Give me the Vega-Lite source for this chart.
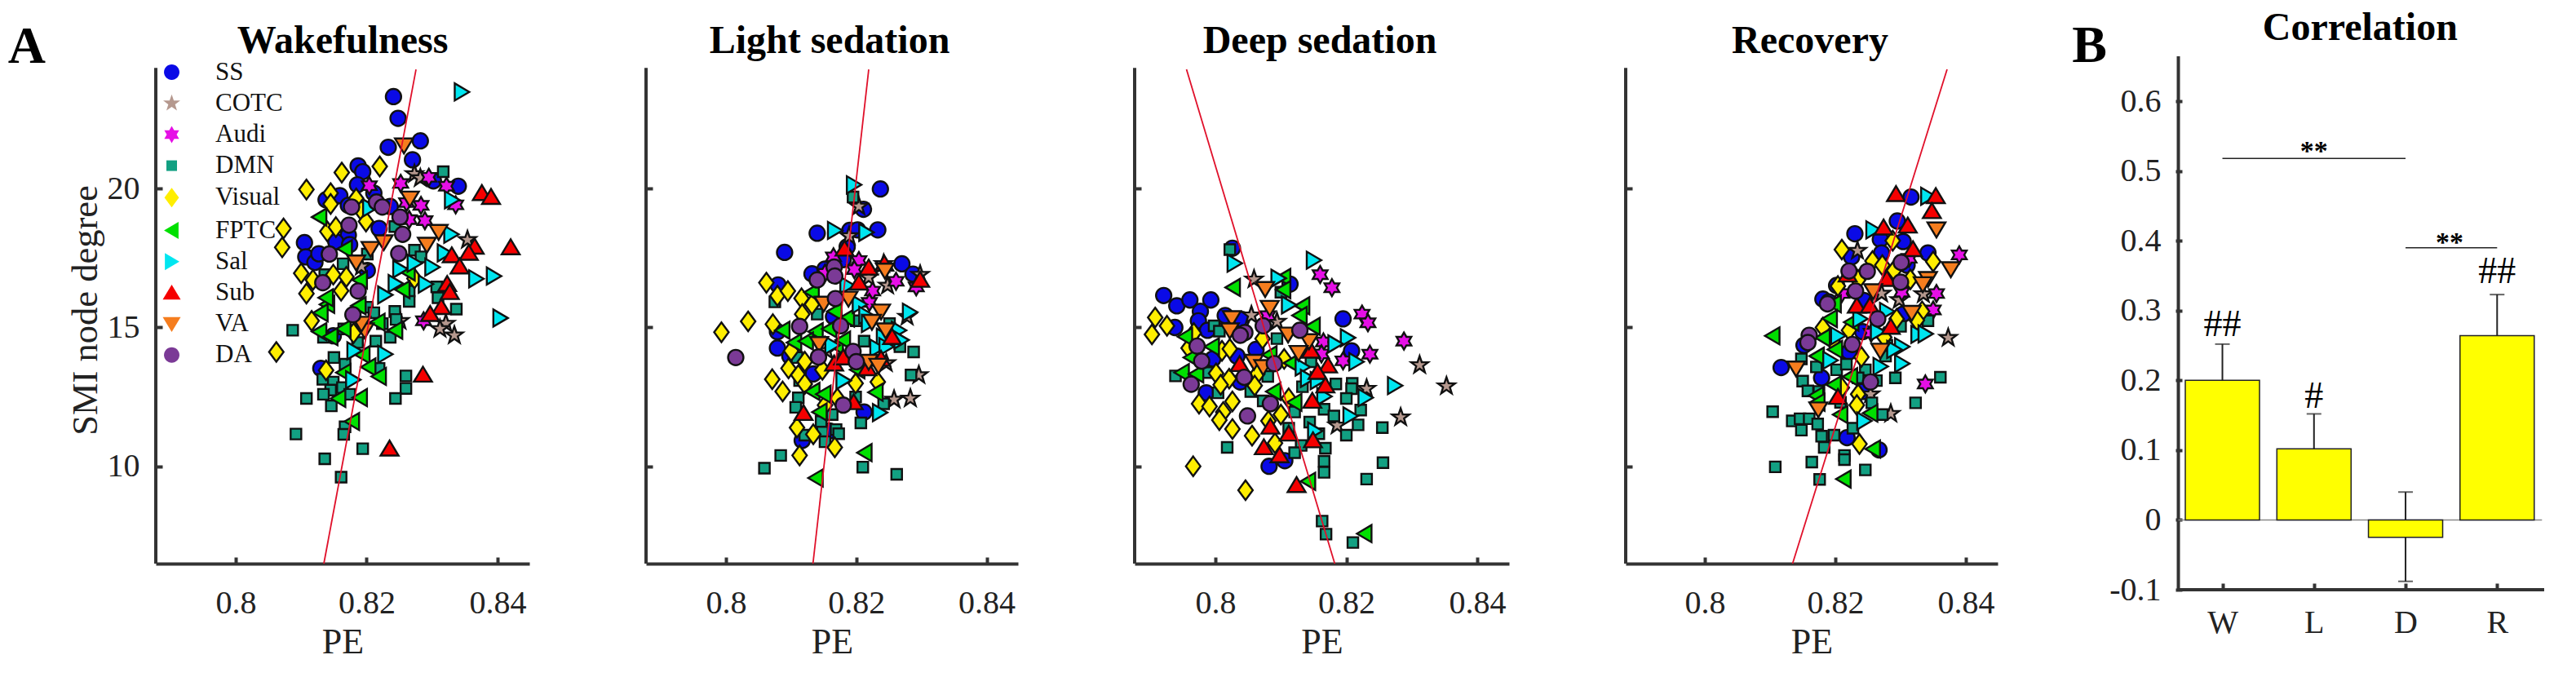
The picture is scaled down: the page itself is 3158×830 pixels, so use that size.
{
"$schema":"https://vega.github.io/schema/vega-lite/v6.json",
"description":"PE against SMI node degree in four states, and their correlation",
"autosize":{"type":"none"},
"padding":{"left":191,"top":69,"right":2967,"bottom":761},
"background":"white",
"spacing":143,
"bounds":"flush",
"resolve":{"scale":{"color":"independent","shape":"independent"},"legend":{"color":"independent","shape":"independent"}},
"config":{
"view":{"stroke":null},
"font":"Liberation Serif",
"axis":{"grid":false,"labelFont":"Liberation Serif","labelFontSize":40,"labelColor":"#222","titleFont":"Liberation Serif","titleFontWeight":"normal","titleColor":"#222","tickColor":"#333","tickWidth":4,"tickSize":-8,"domainColor":"#333","domainWidth":4,"labelOverlap":false,"labelFlush":false,"labelBound":false},
"legend":{"labelFont":"Liberation Serif","labelFontSize":31,"labelColor":"#111","symbolStrokeColor":"#111","symbolStrokeWidth":2.4,"symbolSize":440,"symbolOpacity":1}
},
"datasets":{
"fit":[{"p":"W","x":0.81346,"y":6.51},{"p":"W","x":0.82754,"y":24.28},{"p":"L","x":0.81335,"y":6.51},{"p":"L","x":0.82191,"y":24.28},{"p":"D","x":0.79558,"y":24.28},{"p":"D","x":0.81823,"y":6.51},{"p":"R","x":0.81345,"y":6.51},{"p":"R","x":0.83713,"y":24.28}],
"spine":[{"p":"W","x":0.78779,"y":6.51,"top":24.33},{"p":"L","x":0.78773,"y":6.51,"top":24.33},{"p":"D","x":0.78766,"y":6.51,"top":24.33},{"p":"R","x":0.78788,"y":6.51,"top":24.33}],
"labels":[{"p":"W","t":"A","s":"letter","x":0.7681,"y":24.525},{"p":"W","t":"Wakefulness","s":"head","x":0.81633,"y":24.868},{"p":"L","t":"Light sedation","s":"head","x":0.8159,"y":24.868},{"p":"D","t":"Deep sedation","s":"head","x":0.81595,"y":24.868},{"p":"R","t":"Recovery","s":"head","x":0.81613,"y":24.868}],
"frame":[{"k":"a"}],
"bars":[{"c":1,"v":0.2,"lo":0.2,"hi":0.252},{"c":2,"v":0.102,"lo":0.102,"hi":0.152},{"c":3,"v":-0.025,"lo":-0.088,"hi":0.04},{"c":4,"v":0.264,"lo":0.264,"hi":0.323}],
"caps":[{"c":1,"y":0.252},{"c":2,"y":0.152},{"c":3,"y":0.04},{"c":3,"y":-0.088},{"c":4,"y":0.323}],
"brackets":[{"a":1,"b":3,"y":0.518},{"a":3,"b":4,"y":0.39}],
"notes":[{"t":"B","s":"letter","x":-0.451,"y":0.6564},{"t":"Correlation","s":"head","x":2.5035,"y":0.6877},{"t":"##","s":"hash","x":1,"y":0.263},{"t":"#","s":"hash","x":2,"y":0.161},{"t":"##","s":"hash","x":4,"y":0.339},{"t":"**","s":"star","x":2,"y":0.516},{"t":"**","s":"star","x":3.48,"y":0.385}],
"pts":[
{"p":"W","g":"SS","x":0.8241,"y":23.3},{"p":"W","g":"SS","x":0.8248,"y":22.52},{"p":"W","g":"SS","x":0.8233,"y":21.48},{"p":"W","g":"SS","x":0.8282,"y":21.71},{"p":"W","g":"SS","x":0.827,"y":21.03},{"p":"W","g":"SS","x":0.8187,"y":20.81},{"p":"W","g":"SS","x":0.8194,"y":20.6},{"p":"W","g":"SS","x":0.8186,"y":20.13},{"p":"W","g":"SS","x":0.8302,"y":20.27},{"p":"W","g":"SS","x":0.834,"y":20.08},{"p":"W","g":"SS","x":0.8138,"y":19.59},{"p":"W","g":"SS","x":0.8159,"y":19.74},{"p":"W","g":"SS","x":0.8172,"y":19.39},{"p":"W","g":"SS","x":0.8211,"y":19.83},{"p":"W","g":"SS","x":0.8236,"y":19.35},{"p":"W","g":"SS","x":0.8219,"y":18.56},{"p":"W","g":"SS","x":0.8172,"y":18.32},{"p":"W","g":"SS","x":0.8105,"y":18.05},{"p":"W","g":"SS","x":0.8107,"y":17.54},{"p":"W","g":"SS","x":0.8121,"y":17.34},{"p":"W","g":"SS","x":0.8127,"y":17.65},{"p":"W","g":"SS","x":0.8153,"y":18.08},{"p":"W","g":"SS","x":0.8174,"y":17.98},{"p":"W","g":"SS","x":0.8201,"y":17.05},{"p":"W","g":"SS","x":0.8149,"y":14.7},{"p":"W","g":"SS","x":0.813,"y":13.53},
{"p":"W","g":"COTC","x":0.8273,"y":20.52},{"p":"W","g":"COTC","x":0.8354,"y":18.15},{"p":"W","g":"COTC","x":0.8192,"y":17.19},{"p":"W","g":"COTC","x":0.8282,"y":20.37},{"p":"W","g":"COTC","x":0.8321,"y":15.14},{"p":"W","g":"COTC","x":0.8312,"y":14.95},{"p":"W","g":"COTC","x":0.8334,"y":14.72},{"p":"W","g":"COTC","x":0.8251,"y":15.24},
{"p":"W","g":"Audi","x":0.8204,"y":20.1},{"p":"W","g":"Audi","x":0.8252,"y":20.18},{"p":"W","g":"Audi","x":0.8295,"y":20.4},{"p":"W","g":"Audi","x":0.8322,"y":20.08},{"p":"W","g":"Audi","x":0.8283,"y":19.39},{"p":"W","g":"Audi","x":0.8336,"y":19.41},{"p":"W","g":"Audi","x":0.8289,"y":18.84},{"p":"W","g":"Audi","x":0.8265,"y":18.88},{"p":"W","g":"Audi","x":0.8287,"y":15.24},{"p":"W","g":"Audi","x":0.8261,"y":19.49},
{"p":"W","g":"DMN","x":0.8317,"y":20.6},{"p":"W","g":"DMN","x":0.8243,"y":18.63},{"p":"W","g":"DMN","x":0.8273,"y":17.78},{"p":"W","g":"DMN","x":0.8283,"y":17.54},{"p":"W","g":"DMN","x":0.8164,"y":17.29},{"p":"W","g":"DMN","x":0.8201,"y":17.64},{"p":"W","g":"DMN","x":0.8307,"y":16.46},{"p":"W","g":"DMN","x":0.8309,"y":16.07},{"p":"W","g":"DMN","x":0.8265,"y":16.31},{"p":"W","g":"DMN","x":0.8265,"y":15.94},{"p":"W","g":"DMN","x":0.8337,"y":15.66},{"p":"W","g":"DMN","x":0.8243,"y":15.58},{"p":"W","g":"DMN","x":0.8245,"y":15.29},{"p":"W","g":"DMN","x":0.8087,"y":14.9},{"p":"W","g":"DMN","x":0.8201,"y":15.73},{"p":"W","g":"DMN","x":0.8211,"y":15.53},{"p":"W","g":"DMN","x":0.8136,"y":16.9},{"p":"W","g":"DMN","x":0.8165,"y":14.95},{"p":"W","g":"DMN","x":0.8224,"y":15.14},{"p":"W","g":"DMN","x":0.815,"y":13.92},{"p":"W","g":"DMN","x":0.8167,"y":13.68},{"p":"W","g":"DMN","x":0.8214,"y":14.51},{"p":"W","g":"DMN","x":0.8186,"y":14.46},{"p":"W","g":"DMN","x":0.8236,"y":14.65},{"p":"W","g":"DMN","x":0.8219,"y":13.53},{"p":"W","g":"DMN","x":0.8134,"y":14.65},{"p":"W","g":"DMN","x":0.826,"y":13.26},{"p":"W","g":"DMN","x":0.826,"y":12.81},{"p":"W","g":"DMN","x":0.8244,"y":12.45},{"p":"W","g":"DMN","x":0.8133,"y":13.14},{"p":"W","g":"DMN","x":0.8149,"y":13.04},{"p":"W","g":"DMN","x":0.8145,"y":12.75},{"p":"W","g":"DMN","x":0.8134,"y":12.6},{"p":"W","g":"DMN","x":0.8163,"y":12.84},{"p":"W","g":"DMN","x":0.8174,"y":12.6},{"p":"W","g":"DMN","x":0.8146,"y":12.18},{"p":"W","g":"DMN","x":0.8108,"y":12.45},{"p":"W","g":"DMN","x":0.8167,"y":11.43},{"p":"W","g":"DMN","x":0.8165,"y":11.16},{"p":"W","g":"DMN","x":0.8092,"y":11.17},{"p":"W","g":"DMN","x":0.8194,"y":10.64},{"p":"W","g":"DMN","x":0.8136,"y":10.28},{"p":"W","g":"DMN","x":0.8161,"y":9.62},
{"p":"W","g":"Visual","x":0.822,"y":20.79},{"p":"W","g":"Visual","x":0.8162,"y":20.57},{"p":"W","g":"Visual","x":0.8108,"y":19.96},{"p":"W","g":"Visual","x":0.8145,"y":19.83},{"p":"W","g":"Visual","x":0.8145,"y":19.44},{"p":"W","g":"Visual","x":0.8184,"y":19.64},{"p":"W","g":"Visual","x":0.8192,"y":19.2},{"p":"W","g":"Visual","x":0.8199,"y":18.81},{"p":"W","g":"Visual","x":0.8073,"y":18.56},{"p":"W","g":"Visual","x":0.8071,"y":17.88},{"p":"W","g":"Visual","x":0.814,"y":18.45},{"p":"W","g":"Visual","x":0.8153,"y":18.61},{"p":"W","g":"Visual","x":0.81,"y":16.95},{"p":"W","g":"Visual","x":0.8118,"y":16.71},{"p":"W","g":"Visual","x":0.8149,"y":16.9},{"p":"W","g":"Visual","x":0.8169,"y":16.82},{"p":"W","g":"Visual","x":0.8108,"y":16.22},{"p":"W","g":"Visual","x":0.8161,"y":16.32},{"p":"W","g":"Visual","x":0.8116,"y":15.24},{"p":"W","g":"Visual","x":0.8273,"y":16.76},{"p":"W","g":"Visual","x":0.818,"y":14.8},{"p":"W","g":"Visual","x":0.8062,"y":14.12},{"p":"W","g":"Visual","x":0.8138,"y":13.46},
{"p":"W","g":"FPTC","x":0.8128,"y":18.97},{"p":"W","g":"FPTC","x":0.8167,"y":17.83},{"p":"W","g":"FPTC","x":0.819,"y":16.71},{"p":"W","g":"FPTC","x":0.814,"y":15.83},{"p":"W","g":"FPTC","x":0.813,"y":15.53},{"p":"W","g":"FPTC","x":0.8188,"y":15.78},{"p":"W","g":"FPTC","x":0.8128,"y":14.85},{"p":"W","g":"FPTC","x":0.8165,"y":14.95},{"p":"W","g":"FPTC","x":0.8217,"y":15.19},{"p":"W","g":"FPTC","x":0.8244,"y":14.9},{"p":"W","g":"FPTC","x":0.8138,"y":16.07},{"p":"W","g":"FPTC","x":0.8255,"y":16.36},{"p":"W","g":"FPTC","x":0.8263,"y":17},{"p":"W","g":"FPTC","x":0.8145,"y":14.67},{"p":"W","g":"FPTC","x":0.8194,"y":14.02},{"p":"W","g":"FPTC","x":0.8203,"y":13.58},{"p":"W","g":"FPTC","x":0.8219,"y":13.24},{"p":"W","g":"FPTC","x":0.8165,"y":13.38},{"p":"W","g":"FPTC","x":0.8157,"y":12.45},{"p":"W","g":"FPTC","x":0.819,"y":12.48},{"p":"W","g":"FPTC","x":0.8178,"y":11.62},
{"p":"W","g":"Sal","x":0.8345,"y":23.47},{"p":"W","g":"Sal","x":0.833,"y":19.59},{"p":"W","g":"Sal","x":0.8205,"y":19.3},{"p":"W","g":"Sal","x":0.8329,"y":18.35},{"p":"W","g":"Sal","x":0.8319,"y":17.68},{"p":"W","g":"Sal","x":0.8251,"y":17.1},{"p":"W","g":"Sal","x":0.8273,"y":17.31},{"p":"W","g":"Sal","x":0.83,"y":17.17},{"p":"W","g":"Sal","x":0.8367,"y":16.75},{"p":"W","g":"Sal","x":0.8394,"y":16.85},{"p":"W","g":"Sal","x":0.8244,"y":16.58},{"p":"W","g":"Sal","x":0.829,"y":16.56},{"p":"W","g":"Sal","x":0.8228,"y":16.17},{"p":"W","g":"Sal","x":0.8404,"y":15.34},{"p":"W","g":"Sal","x":0.8181,"y":14.16},{"p":"W","g":"Sal","x":0.8228,"y":14.04},{"p":"W","g":"Sal","x":0.8179,"y":13.12},
{"p":"W","g":"Sub","x":0.8376,"y":19.83},{"p":"W","g":"Sub","x":0.839,"y":19.69},{"p":"W","g":"Sub","x":0.8365,"y":17.9},{"p":"W","g":"Sub","x":0.842,"y":17.88},{"p":"W","g":"Sub","x":0.833,"y":17.59},{"p":"W","g":"Sub","x":0.8356,"y":17.68},{"p":"W","g":"Sub","x":0.8342,"y":17.19},{"p":"W","g":"Sub","x":0.8323,"y":16.56},{"p":"W","g":"Sub","x":0.8327,"y":16.27},{"p":"W","g":"Sub","x":0.8314,"y":15.73},{"p":"W","g":"Sub","x":0.8297,"y":15.48},{"p":"W","g":"Sub","x":0.8286,"y":13.3},{"p":"W","g":"Sub","x":0.8235,"y":10.64},
{"p":"W","g":"VA","x":0.8257,"y":21.55},{"p":"W","g":"VA","x":0.8266,"y":19.64},{"p":"W","g":"VA","x":0.831,"y":18.44},{"p":"W","g":"VA","x":0.8292,"y":17.98},{"p":"W","g":"VA","x":0.8206,"y":17.83},{"p":"W","g":"VA","x":0.8226,"y":18.07},{"p":"W","g":"VA","x":0.8184,"y":17.34},{"p":"W","g":"VA","x":0.8197,"y":14.9},{"p":"W","g":"VA","x":0.8192,"y":15.14},
{"p":"W","g":"DA","x":0.8177,"y":19.33},{"p":"W","g":"DA","x":0.8215,"y":19.51},{"p":"W","g":"DA","x":0.8224,"y":19.33},{"p":"W","g":"DA","x":0.8251,"y":18.97},{"p":"W","g":"DA","x":0.8173,"y":18.68},{"p":"W","g":"DA","x":0.8255,"y":18.35},{"p":"W","g":"DA","x":0.8143,"y":17.64},{"p":"W","g":"DA","x":0.8249,"y":17.66},{"p":"W","g":"DA","x":0.8133,"y":16.61},{"p":"W","g":"DA","x":0.8187,"y":16.31},{"p":"W","g":"DA","x":0.8179,"y":15.46},
{"p":"L","g":"SS","x":0.8237,"y":19.98},{"p":"L","g":"SS","x":0.8211,"y":19.25},{"p":"L","g":"SS","x":0.814,"y":18.39},{"p":"L","g":"SS","x":0.819,"y":18.49},{"p":"L","g":"SS","x":0.8202,"y":18.51},{"p":"L","g":"SS","x":0.8233,"y":18.51},{"p":"L","g":"SS","x":0.809,"y":17.7},{"p":"L","g":"SS","x":0.8186,"y":17.9},{"p":"L","g":"SS","x":0.818,"y":17.44},{"p":"L","g":"SS","x":0.827,"y":17.29},{"p":"L","g":"SS","x":0.8132,"y":16.93},{"p":"L","g":"SS","x":0.8152,"y":17.1},{"p":"L","g":"SS","x":0.8287,"y":16.92},{"p":"L","g":"SS","x":0.808,"y":16.53},{"p":"L","g":"SS","x":0.8079,"y":14.26},{"p":"L","g":"SS","x":0.8134,"y":13.33},{"p":"L","g":"SS","x":0.8098,"y":13.97},{"p":"L","g":"SS","x":0.8212,"y":11.96},{"p":"L","g":"SS","x":0.8117,"y":10.94},{"p":"L","g":"SS","x":0.8079,"y":14.85},{"p":"L","g":"SS","x":0.8159,"y":11.28},{"p":"L","g":"SS","x":0.8165,"y":15.39},
{"p":"L","g":"COTC","x":0.8204,"y":19.35},{"p":"L","g":"COTC","x":0.8189,"y":18.29},{"p":"L","g":"COTC","x":0.8219,"y":16.8},{"p":"L","g":"COTC","x":0.8248,"y":16.51},{"p":"L","g":"COTC","x":0.8278,"y":15.39},{"p":"L","g":"COTC","x":0.8155,"y":14.16},{"p":"L","g":"COTC","x":0.8296,"y":13.29},{"p":"L","g":"COTC","x":0.8258,"y":12.41},{"p":"L","g":"COTC","x":0.8283,"y":12.45},{"p":"L","g":"COTC","x":0.8246,"y":13.72},{"p":"L","g":"COTC","x":0.8242,"y":17.29},{"p":"L","g":"COTC","x":0.8298,"y":16.9},
{"p":"L","g":"Audi","x":0.8165,"y":17.54},{"p":"L","g":"Audi","x":0.8204,"y":17.41},{"p":"L","g":"Audi","x":0.8197,"y":17.08},{"p":"L","g":"Audi","x":0.8261,"y":16.66},{"p":"L","g":"Audi","x":0.8225,"y":16.31},{"p":"L","g":"Audi","x":0.822,"y":15.9},{"p":"L","g":"Audi","x":0.8292,"y":16.46},{"p":"L","g":"Audi","x":0.8152,"y":16.95},
{"p":"L","g":"DMN","x":0.8195,"y":19.69},{"p":"L","g":"DMN","x":0.8075,"y":15.92},{"p":"L","g":"DMN","x":0.814,"y":15.48},{"p":"L","g":"DMN","x":0.82,"y":15.24},{"p":"L","g":"DMN","x":0.8251,"y":15.14},{"p":"L","g":"DMN","x":0.8212,"y":14.51},{"p":"L","g":"DMN","x":0.8267,"y":14.31},{"p":"L","g":"DMN","x":0.8288,"y":14.12},{"p":"L","g":"DMN","x":0.8284,"y":13.29},{"p":"L","g":"DMN","x":0.8111,"y":12.47},{"p":"L","g":"DMN","x":0.8109,"y":13.92},{"p":"L","g":"DMN","x":0.8107,"y":12.13},{"p":"L","g":"DMN","x":0.8199,"y":12.5},{"p":"L","g":"DMN","x":0.8242,"y":12.26},{"p":"L","g":"DMN","x":0.8163,"y":11.87},{"p":"L","g":"DMN","x":0.8207,"y":11.57},{"p":"L","g":"DMN","x":0.8148,"y":11.28},{"p":"L","g":"DMN","x":0.8169,"y":11.33},{"p":"L","g":"DMN","x":0.8173,"y":11.18},{"p":"L","g":"DMN","x":0.8152,"y":10.89},{"p":"L","g":"DMN","x":0.8084,"y":10.4},{"p":"L","g":"DMN","x":0.8059,"y":9.94},{"p":"L","g":"DMN","x":0.821,"y":9.98},{"p":"L","g":"DMN","x":0.8262,"y":9.72},{"p":"L","g":"DMN","x":0.8113,"y":13.09},{"p":"L","g":"DMN","x":0.8146,"y":11.62},{"p":"L","g":"DMN","x":0.8121,"y":11.13},{"p":"L","g":"DMN","x":0.818,"y":13.87},
{"p":"L","g":"Visual","x":0.8062,"y":16.61},{"p":"L","g":"Visual","x":0.8079,"y":16.14},{"p":"L","g":"Visual","x":0.8095,"y":16.31},{"p":"L","g":"Visual","x":0.8116,"y":16.05},{"p":"L","g":"Visual","x":0.8132,"y":15.83},{"p":"L","g":"Visual","x":0.8117,"y":15.48},{"p":"L","g":"Visual","x":0.8072,"y":15.12},{"p":"L","g":"Visual","x":0.8034,"y":15.22},{"p":"L","g":"Visual","x":0.7993,"y":14.83},{"p":"L","g":"Visual","x":0.8121,"y":13.77},{"p":"L","g":"Visual","x":0.8096,"y":13.53},{"p":"L","g":"Visual","x":0.8111,"y":13.29},{"p":"L","g":"Visual","x":0.8121,"y":12.97},{"p":"L","g":"Visual","x":0.8071,"y":13.14},{"p":"L","g":"Visual","x":0.8087,"y":12.7},{"p":"L","g":"Visual","x":0.8199,"y":12.99},{"p":"L","g":"Visual","x":0.8233,"y":13.04},{"p":"L","g":"Visual","x":0.8109,"y":11.4},{"p":"L","g":"Visual","x":0.8134,"y":11.16},{"p":"L","g":"Visual","x":0.8167,"y":10.69},{"p":"L","g":"Visual","x":0.8113,"y":10.4},{"p":"L","g":"Visual","x":0.8148,"y":13.48},{"p":"L","g":"Visual","x":0.8152,"y":12.21},{"p":"L","g":"Visual","x":0.81,"y":14.16},{"p":"L","g":"Visual","x":0.8171,"y":12.45},
{"p":"L","g":"FPTC","x":0.8087,"y":14.9},{"p":"L","g":"FPTC","x":0.8132,"y":16.27},{"p":"L","g":"FPTC","x":0.8138,"y":14.85},{"p":"L","g":"FPTC","x":0.8159,"y":14.95},{"p":"L","g":"FPTC","x":0.8105,"y":14.46},{"p":"L","g":"FPTC","x":0.8123,"y":14.51},{"p":"L","g":"FPTC","x":0.8169,"y":14.36},{"p":"L","g":"FPTC","x":0.8186,"y":15.34},{"p":"L","g":"FPTC","x":0.8133,"y":12.7},{"p":"L","g":"FPTC","x":0.815,"y":12.6},{"p":"L","g":"FPTC","x":0.8144,"y":11.96},{"p":"L","g":"FPTC","x":0.823,"y":12.67},{"p":"L","g":"FPTC","x":0.8213,"y":10.5},{"p":"L","g":"FPTC","x":0.8138,"y":9.59},{"p":"L","g":"FPTC","x":0.818,"y":14.55},{"p":"L","g":"FPTC","x":0.8202,"y":13.48},{"p":"L","g":"FPTC","x":0.8167,"y":15.58},
{"p":"L","g":"Sal","x":0.8196,"y":20.13},{"p":"L","g":"Sal","x":0.8167,"y":18.49},{"p":"L","g":"Sal","x":0.8215,"y":18.42},{"p":"L","g":"Sal","x":0.8186,"y":16.51},{"p":"L","g":"Sal","x":0.8205,"y":15.83},{"p":"L","g":"Sal","x":0.8282,"y":15.55},{"p":"L","g":"Sal","x":0.8215,"y":15.44},{"p":"L","g":"Sal","x":0.8219,"y":15.14},{"p":"L","g":"Sal","x":0.8242,"y":14.65},{"p":"L","g":"Sal","x":0.8265,"y":14.9},{"p":"L","g":"Sal","x":0.8232,"y":14.26},{"p":"L","g":"Sal","x":0.8246,"y":14.31},{"p":"L","g":"Sal","x":0.8269,"y":14.55},{"p":"L","g":"Sal","x":0.818,"y":13.09},{"p":"L","g":"Sal","x":0.8236,"y":11.94},{"p":"L","g":"Sal","x":0.8163,"y":14.36},
{"p":"L","g":"Sub","x":0.8182,"y":17.83},{"p":"L","g":"Sub","x":0.8219,"y":17.15},{"p":"L","g":"Sub","x":0.8243,"y":17.29},{"p":"L","g":"Sub","x":0.8204,"y":16.61},{"p":"L","g":"Sub","x":0.8298,"y":16.71},{"p":"L","g":"Sub","x":0.8255,"y":14.65},{"p":"L","g":"Sub","x":0.8166,"y":13.7},{"p":"L","g":"Sub","x":0.8119,"y":11.92},{"p":"L","g":"Sub","x":0.818,"y":13.92},{"p":"L","g":"Sub","x":0.8238,"y":13.87},{"p":"L","g":"Sub","x":0.8217,"y":13.53},{"p":"L","g":"Sub","x":0.8196,"y":12.31},
{"p":"L","g":"VA","x":0.8244,"y":17.05},{"p":"L","g":"VA","x":0.815,"y":15.86},{"p":"L","g":"VA","x":0.8188,"y":16.04},{"p":"L","g":"VA","x":0.8238,"y":15.58},{"p":"L","g":"VA","x":0.8224,"y":15.21},{"p":"L","g":"VA","x":0.8245,"y":14.9},{"p":"L","g":"VA","x":0.8143,"y":14.41},{"p":"L","g":"VA","x":0.8219,"y":13.77},{"p":"L","g":"VA","x":0.8234,"y":13.63},
{"p":"L","g":"DA","x":0.8166,"y":17.17},{"p":"L","g":"DA","x":0.814,"y":16.71},{"p":"L","g":"DA","x":0.8167,"y":16.85},{"p":"L","g":"DA","x":0.8168,"y":16.04},{"p":"L","g":"DA","x":0.8113,"y":15.04},{"p":"L","g":"DA","x":0.8176,"y":15.06},{"p":"L","g":"DA","x":0.8015,"y":13.92},{"p":"L","g":"DA","x":0.8142,"y":13.94},{"p":"L","g":"DA","x":0.8195,"y":14.14},{"p":"L","g":"DA","x":0.82,"y":13.77},{"p":"L","g":"DA","x":0.818,"y":12.21},
{"p":"D","g":"SS","x":0.8026,"y":17.85},{"p":"D","g":"SS","x":0.8114,"y":16.56},{"p":"D","g":"SS","x":0.7921,"y":16.15},{"p":"D","g":"SS","x":0.7941,"y":15.78},{"p":"D","g":"SS","x":0.7961,"y":15.99},{"p":"D","g":"SS","x":0.7993,"y":15.99},{"p":"D","g":"SS","x":0.7977,"y":15.58},{"p":"D","g":"SS","x":0.7974,"y":15.24},{"p":"D","g":"SS","x":0.8015,"y":15.43},{"p":"D","g":"SS","x":0.804,"y":15.29},{"p":"D","g":"SS","x":0.7938,"y":15},{"p":"D","g":"SS","x":0.8195,"y":15.31},{"p":"D","g":"SS","x":0.8208,"y":14.16},{"p":"D","g":"SS","x":0.8062,"y":14.21},{"p":"D","g":"SS","x":0.8033,"y":13.97},{"p":"D","g":"SS","x":0.7996,"y":13.87},{"p":"D","g":"SS","x":0.7986,"y":12.65},{"p":"D","g":"SS","x":0.8038,"y":13.04},{"p":"D","g":"SS","x":0.8082,"y":10.01},{"p":"D","g":"SS","x":0.8106,"y":10.21},{"p":"D","g":"SS","x":0.7988,"y":14.9},
{"p":"D","g":"COTC","x":0.8059,"y":16.73},{"p":"D","g":"COTC","x":0.8055,"y":15.44},{"p":"D","g":"COTC","x":0.8094,"y":15.21},{"p":"D","g":"COTC","x":0.8312,"y":13.65},{"p":"D","g":"COTC","x":0.8353,"y":12.89},{"p":"D","g":"COTC","x":0.8283,"y":11.77},{"p":"D","g":"COTC","x":0.8231,"y":12.8},{"p":"D","g":"COTC","x":0.8186,"y":11.48},
{"p":"D","g":"Audi","x":0.816,"y":16.9},{"p":"D","g":"Audi","x":0.8178,"y":16.43},{"p":"D","g":"Audi","x":0.8224,"y":15.48},{"p":"D","g":"Audi","x":0.8233,"y":15.17},{"p":"D","g":"Audi","x":0.8288,"y":14.51},{"p":"D","g":"Audi","x":0.8236,"y":14.04},{"p":"D","g":"Audi","x":0.8195,"y":13.8},{"p":"D","g":"Audi","x":0.8165,"y":14.48},{"p":"D","g":"Audi","x":0.8162,"y":14.05},{"p":"D","g":"Audi","x":0.808,"y":15.43},
{"p":"D","g":"DMN","x":0.8022,"y":17.8},{"p":"D","g":"DMN","x":0.81,"y":16.27},{"p":"D","g":"DMN","x":0.7998,"y":15.06},{"p":"D","g":"DMN","x":0.8006,"y":14.87},{"p":"D","g":"DMN","x":0.8094,"y":14.6},{"p":"D","g":"DMN","x":0.7939,"y":13.26},{"p":"D","g":"DMN","x":0.7989,"y":13.38},{"p":"D","g":"DMN","x":0.8004,"y":12.65},{"p":"D","g":"DMN","x":0.808,"y":13.24},{"p":"D","g":"DMN","x":0.8133,"y":12.87},{"p":"D","g":"DMN","x":0.8146,"y":13.77},{"p":"D","g":"DMN","x":0.8184,"y":12.97},{"p":"D","g":"DMN","x":0.8209,"y":12.99},{"p":"D","g":"DMN","x":0.8208,"y":12.8},{"p":"D","g":"DMN","x":0.82,"y":12.45},{"p":"D","g":"DMN","x":0.8054,"y":12.7},{"p":"D","g":"DMN","x":0.8073,"y":12.36},{"p":"D","g":"DMN","x":0.8121,"y":11.96},{"p":"D","g":"DMN","x":0.8166,"y":12.06},{"p":"D","g":"DMN","x":0.8181,"y":11.82},{"p":"D","g":"DMN","x":0.8222,"y":12.03},{"p":"D","g":"DMN","x":0.8218,"y":11.5},{"p":"D","g":"DMN","x":0.8255,"y":11.4},{"p":"D","g":"DMN","x":0.82,"y":11.13},{"p":"D","g":"DMN","x":0.8144,"y":11.6},{"p":"D","g":"DMN","x":0.8158,"y":11.18},{"p":"D","g":"DMN","x":0.8112,"y":11.38},{"p":"D","g":"DMN","x":0.8131,"y":10.76},{"p":"D","g":"DMN","x":0.8121,"y":10.5},{"p":"D","g":"DMN","x":0.8168,"y":10.66},{"p":"D","g":"DMN","x":0.8166,"y":10.19},{"p":"D","g":"DMN","x":0.8166,"y":9.79},{"p":"D","g":"DMN","x":0.8018,"y":10.69},{"p":"D","g":"DMN","x":0.8256,"y":10.14},{"p":"D","g":"DMN","x":0.8231,"y":9.55},{"p":"D","g":"DMN","x":0.8163,"y":8.04},{"p":"D","g":"DMN","x":0.8169,"y":7.57},{"p":"D","g":"DMN","x":0.821,"y":7.27},
{"p":"D","g":"Visual","x":0.7908,"y":15.36},{"p":"D","g":"Visual","x":0.7926,"y":15.06},{"p":"D","g":"Visual","x":0.7903,"y":14.75},{"p":"D","g":"Visual","x":0.7967,"y":14.8},{"p":"D","g":"Visual","x":0.801,"y":14.16},{"p":"D","g":"Visual","x":0.8022,"y":14.23},{"p":"D","g":"Visual","x":0.8001,"y":13.35},{"p":"D","g":"Visual","x":0.8021,"y":13.16},{"p":"D","g":"Visual","x":0.8008,"y":12.94},{"p":"D","g":"Visual","x":0.8026,"y":12.34},{"p":"D","g":"Visual","x":0.7975,"y":12.26},{"p":"D","g":"Visual","x":0.7991,"y":12.16},{"p":"D","g":"Visual","x":0.8012,"y":11.96},{"p":"D","g":"Visual","x":0.8006,"y":11.67},{"p":"D","g":"Visual","x":0.8026,"y":11.35},{"p":"D","g":"Visual","x":0.8056,"y":11.11},{"p":"D","g":"Visual","x":0.81,"y":11.87},{"p":"D","g":"Visual","x":0.8081,"y":11.64},{"p":"D","g":"Visual","x":0.8091,"y":10.84},{"p":"D","g":"Visual","x":0.7966,"y":10.01},{"p":"D","g":"Visual","x":0.8046,"y":9.15},{"p":"D","g":"Visual","x":0.8072,"y":14.6},{"p":"D","g":"Visual","x":0.8105,"y":13.87},{"p":"D","g":"Visual","x":0.8064,"y":13.33},{"p":"D","g":"Visual","x":0.806,"y":12.91},{"p":"D","g":"Visual","x":0.8112,"y":12.45},{"p":"D","g":"Visual","x":0.7959,"y":14.26},
{"p":"D","g":"FPTC","x":0.8027,"y":16.44},{"p":"D","g":"FPTC","x":0.8104,"y":16.8},{"p":"D","g":"FPTC","x":0.8104,"y":16.36},{"p":"D","g":"FPTC","x":0.8133,"y":15.78},{"p":"D","g":"FPTC","x":0.8129,"y":15.43},{"p":"D","g":"FPTC","x":0.8149,"y":15.04},{"p":"D","g":"FPTC","x":0.7954,"y":14.67},{"p":"D","g":"FPTC","x":0.7995,"y":14.31},{"p":"D","g":"FPTC","x":0.7963,"y":13.92},{"p":"D","g":"FPTC","x":0.7949,"y":13.38},{"p":"D","g":"FPTC","x":0.7971,"y":13.33},{"p":"D","g":"FPTC","x":0.8089,"y":12.7},{"p":"D","g":"FPTC","x":0.8121,"y":12.31},{"p":"D","g":"FPTC","x":0.8142,"y":9.47},{"p":"D","g":"FPTC","x":0.8228,"y":7.59},{"p":"D","g":"FPTC","x":0.8083,"y":14.02},{"p":"D","g":"FPTC","x":0.8116,"y":13.72},
{"p":"D","g":"Sal","x":0.815,"y":17.42},{"p":"D","g":"Sal","x":0.8029,"y":17.31},{"p":"D","g":"Sal","x":0.8096,"y":16.77},{"p":"D","g":"Sal","x":0.8112,"y":15.81},{"p":"D","g":"Sal","x":0.8202,"y":14.63},{"p":"D","g":"Sal","x":0.8183,"y":14.41},{"p":"D","g":"Sal","x":0.8215,"y":13.77},{"p":"D","g":"Sal","x":0.8133,"y":13.58},{"p":"D","g":"Sal","x":0.8141,"y":13.17},{"p":"D","g":"Sal","x":0.8156,"y":13.09},{"p":"D","g":"Sal","x":0.8166,"y":12.52},{"p":"D","g":"Sal","x":0.8274,"y":12.91},{"p":"D","g":"Sal","x":0.8229,"y":12.48},{"p":"D","g":"Sal","x":0.8206,"y":11.82},{"p":"D","g":"Sal","x":0.8152,"y":11.28},
{"p":"D","g":"Sub","x":0.8037,"y":13.68},{"p":"D","g":"Sub","x":0.8146,"y":14.16},{"p":"D","g":"Sub","x":0.8172,"y":13.63},{"p":"D","g":"Sub","x":0.8156,"y":13.4},{"p":"D","g":"Sub","x":0.8168,"y":12.91},{"p":"D","g":"Sub","x":0.8148,"y":12.36},{"p":"D","g":"Sub","x":0.8084,"y":11.43},{"p":"D","g":"Sub","x":0.8112,"y":11.18},{"p":"D","g":"Sub","x":0.8149,"y":10.94},{"p":"D","g":"Sub","x":0.8074,"y":10.69},{"p":"D","g":"Sub","x":0.8098,"y":10.4},{"p":"D","g":"Sub","x":0.8124,"y":9.33},
{"p":"D","g":"VA","x":0.8076,"y":16.39},{"p":"D","g":"VA","x":0.8083,"y":15.71},{"p":"D","g":"VA","x":0.8025,"y":15.34},{"p":"D","g":"VA","x":0.8022,"y":14.9},{"p":"D","g":"VA","x":0.8111,"y":14.75},{"p":"D","g":"VA","x":0.8143,"y":14.51},{"p":"D","g":"VA","x":0.8127,"y":14.09},{"p":"D","g":"VA","x":0.8059,"y":13.77},{"p":"D","g":"VA","x":0.8073,"y":13.58},
{"p":"D","g":"DA","x":0.8073,"y":15.06},{"p":"D","g":"DA","x":0.8045,"y":14.82},{"p":"D","g":"DA","x":0.8038,"y":14.72},{"p":"D","g":"DA","x":0.8129,"y":14.9},{"p":"D","g":"DA","x":0.7972,"y":14.33},{"p":"D","g":"DA","x":0.7979,"y":13.79},{"p":"D","g":"DA","x":0.809,"y":13.7},{"p":"D","g":"DA","x":0.8044,"y":13.21},{"p":"D","g":"DA","x":0.7963,"y":12.96},{"p":"D","g":"DA","x":0.8084,"y":12.26},{"p":"D","g":"DA","x":0.8049,"y":11.82},
{"p":"R","g":"SS","x":0.8316,"y":19.69},{"p":"R","g":"SS","x":0.8295,"y":18.83},{"p":"R","g":"SS","x":0.823,"y":18.37},{"p":"R","g":"SS","x":0.8269,"y":18.17},{"p":"R","g":"SS","x":0.8304,"y":18.09},{"p":"R","g":"SS","x":0.8271,"y":17.68},{"p":"R","g":"SS","x":0.8342,"y":17.68},{"p":"R","g":"SS","x":0.8225,"y":17.54},{"p":"R","g":"SS","x":0.831,"y":17.24},{"p":"R","g":"SS","x":0.8202,"y":16.51},{"p":"R","g":"SS","x":0.8181,"y":16.02},{"p":"R","g":"SS","x":0.819,"y":15.92},{"p":"R","g":"SS","x":0.8244,"y":15.97},{"p":"R","g":"SS","x":0.8304,"y":15.48},{"p":"R","g":"SS","x":0.8152,"y":14.36},{"p":"R","g":"SS","x":0.8117,"y":13.56},{"p":"R","g":"SS","x":0.8221,"y":14.12},{"p":"R","g":"SS","x":0.8242,"y":14.85},{"p":"R","g":"SS","x":0.8179,"y":13.19},{"p":"R","g":"SS","x":0.8242,"y":12.7},{"p":"R","g":"SS","x":0.8218,"y":11.04},{"p":"R","g":"SS","x":0.8267,"y":10.6},
{"p":"R","g":"COTC","x":0.8234,"y":17.76},{"p":"R","g":"COTC","x":0.8271,"y":16.22},{"p":"R","g":"COTC","x":0.8298,"y":15.99},{"p":"R","g":"COTC","x":0.8335,"y":16.2},{"p":"R","g":"COTC","x":0.8373,"y":14.63},{"p":"R","g":"COTC","x":0.8254,"y":12.6},{"p":"R","g":"COTC","x":0.8285,"y":11.9},
{"p":"R","g":"Audi","x":0.839,"y":17.61},{"p":"R","g":"Audi","x":0.8355,"y":16.22},{"p":"R","g":"Audi","x":0.835,"y":15.63},{"p":"R","g":"Audi","x":0.8255,"y":14.8},{"p":"R","g":"Audi","x":0.8338,"y":12.97},{"p":"R","g":"Audi","x":0.8313,"y":17.49},{"p":"R","g":"Audi","x":0.8302,"y":16.27},{"p":"R","g":"Audi","x":0.821,"y":16.22},
{"p":"R","g":"DMN","x":0.8342,"y":15.24},{"p":"R","g":"DMN","x":0.83,"y":15.04},{"p":"R","g":"DMN","x":0.8148,"y":13.87},{"p":"R","g":"DMN","x":0.8171,"y":13.58},{"p":"R","g":"DMN","x":0.8202,"y":13.48},{"p":"R","g":"DMN","x":0.8217,"y":13.68},{"p":"R","g":"DMN","x":0.8246,"y":13.48},{"p":"R","g":"DMN","x":0.8292,"y":13.19},{"p":"R","g":"DMN","x":0.8263,"y":13.09},{"p":"R","g":"DMN","x":0.815,"y":13.07},{"p":"R","g":"DMN","x":0.8158,"y":12.72},{"p":"R","g":"DMN","x":0.8175,"y":12.7},{"p":"R","g":"DMN","x":0.8361,"y":13.21},{"p":"R","g":"DMN","x":0.8323,"y":12.29},{"p":"R","g":"DMN","x":0.8256,"y":12.29},{"p":"R","g":"DMN","x":0.8272,"y":11.87},{"p":"R","g":"DMN","x":0.8104,"y":11.97},{"p":"R","g":"DMN","x":0.8134,"y":11.64},{"p":"R","g":"DMN","x":0.8146,"y":11.72},{"p":"R","g":"DMN","x":0.816,"y":11.72},{"p":"R","g":"DMN","x":0.8173,"y":11.53},{"p":"R","g":"DMN","x":0.8148,"y":11.31},{"p":"R","g":"DMN","x":0.8179,"y":11.09},{"p":"R","g":"DMN","x":0.8198,"y":11.13},{"p":"R","g":"DMN","x":0.8227,"y":11.38},{"p":"R","g":"DMN","x":0.8183,"y":10.69},{"p":"R","g":"DMN","x":0.8214,"y":10.4},{"p":"R","g":"DMN","x":0.8214,"y":10.25},{"p":"R","g":"DMN","x":0.8164,"y":10.16},{"p":"R","g":"DMN","x":0.8108,"y":9.99},{"p":"R","g":"DMN","x":0.8246,"y":9.88},{"p":"R","g":"DMN","x":0.8176,"y":9.54},{"p":"R","g":"DMN","x":0.8235,"y":13.19},{"p":"R","g":"DMN","x":0.8208,"y":12.31},{"p":"R","g":"DMN","x":0.8279,"y":14.36},{"p":"R","g":"DMN","x":0.8277,"y":13.97},
{"p":"R","g":"Visual","x":0.821,"y":17.8},{"p":"R","g":"Visual","x":0.8288,"y":18.12},{"p":"R","g":"Visual","x":0.835,"y":17.37},{"p":"R","g":"Visual","x":0.8257,"y":17.39},{"p":"R","g":"Visual","x":0.8272,"y":17.24},{"p":"R","g":"Visual","x":0.829,"y":17.05},{"p":"R","g":"Visual","x":0.8315,"y":16.73},{"p":"R","g":"Visual","x":0.8235,"y":16.71},{"p":"R","g":"Visual","x":0.8204,"y":16.49},{"p":"R","g":"Visual","x":0.8333,"y":15.58},{"p":"R","g":"Visual","x":0.8294,"y":15.31},{"p":"R","g":"Visual","x":0.8325,"y":15.26},{"p":"R","g":"Visual","x":0.8181,"y":15},{"p":"R","g":"Visual","x":0.8221,"y":14.9},{"p":"R","g":"Visual","x":0.8196,"y":14.51},{"p":"R","g":"Visual","x":0.824,"y":13.94},{"p":"R","g":"Visual","x":0.8275,"y":14.65},{"p":"R","g":"Visual","x":0.821,"y":12.84},{"p":"R","g":"Visual","x":0.8235,"y":12.6},{"p":"R","g":"Visual","x":0.8233,"y":12.21},{"p":"R","g":"Visual","x":0.8237,"y":10.81},
{"p":"R","g":"FPTC","x":0.8104,"y":14.7},{"p":"R","g":"FPTC","x":0.8198,"y":15.85},{"p":"R","g":"FPTC","x":0.8192,"y":15.32},{"p":"R","g":"FPTC","x":0.8225,"y":15.19},{"p":"R","g":"FPTC","x":0.8181,"y":14.63},{"p":"R","g":"FPTC","x":0.8172,"y":13.97},{"p":"R","g":"FPTC","x":0.82,"y":14.21},{"p":"R","g":"FPTC","x":0.8223,"y":13.23},{"p":"R","g":"FPTC","x":0.8198,"y":12.94},{"p":"R","g":"FPTC","x":0.8171,"y":12.55},{"p":"R","g":"FPTC","x":0.8173,"y":12.31},{"p":"R","g":"FPTC","x":0.8208,"y":11.87},{"p":"R","g":"FPTC","x":0.8254,"y":11.92},{"p":"R","g":"FPTC","x":0.8258,"y":10.63},{"p":"R","g":"FPTC","x":0.8213,"y":9.55},
{"p":"R","g":"Sal","x":0.8342,"y":19.72},{"p":"R","g":"Sal","x":0.8258,"y":18.51},{"p":"R","g":"Sal","x":0.8238,"y":15.31},{"p":"R","g":"Sal","x":0.8279,"y":15.58},{"p":"R","g":"Sal","x":0.8204,"y":14.7},{"p":"R","g":"Sal","x":0.8327,"y":14.75},{"p":"R","g":"Sal","x":0.8338,"y":14.77},{"p":"R","g":"Sal","x":0.8302,"y":14.31},{"p":"R","g":"Sal","x":0.829,"y":14.21},{"p":"R","g":"Sal","x":0.8192,"y":13.82},{"p":"R","g":"Sal","x":0.8269,"y":13.6},{"p":"R","g":"Sal","x":0.8302,"y":13.7},{"p":"R","g":"Sal","x":0.8244,"y":11.64},{"p":"R","g":"Sal","x":0.8265,"y":14.85},
{"p":"R","g":"Sub","x":0.8293,"y":19.79},{"p":"R","g":"Sub","x":0.8354,"y":19.72},{"p":"R","g":"Sub","x":0.8348,"y":19.18},{"p":"R","g":"Sub","x":0.8274,"y":18.59},{"p":"R","g":"Sub","x":0.8311,"y":18.66},{"p":"R","g":"Sub","x":0.8319,"y":17.81},{"p":"R","g":"Sub","x":0.8279,"y":16.74},{"p":"R","g":"Sub","x":0.8219,"y":16.9},{"p":"R","g":"Sub","x":0.8233,"y":15.78},{"p":"R","g":"Sub","x":0.8253,"y":15.78},{"p":"R","g":"Sub","x":0.8285,"y":15.02},{"p":"R","g":"Sub","x":0.8204,"y":12.5},
{"p":"R","g":"VA","x":0.8355,"y":18.53},{"p":"R","g":"VA","x":0.8377,"y":17.1},{"p":"R","g":"VA","x":0.8342,"y":16.75},{"p":"R","g":"VA","x":0.8334,"y":16.56},{"p":"R","g":"VA","x":0.8258,"y":16.31},{"p":"R","g":"VA","x":0.8317,"y":15.53},{"p":"R","g":"VA","x":0.8269,"y":14.17},{"p":"R","g":"VA","x":0.814,"y":13.53},{"p":"R","g":"VA","x":0.8174,"y":12.06},
{"p":"R","g":"DA","x":0.8301,"y":17.34},{"p":"R","g":"DA","x":0.8221,"y":17.03},{"p":"R","g":"DA","x":0.8249,"y":17.02},{"p":"R","g":"DA","x":0.83,"y":16.63},{"p":"R","g":"DA","x":0.8231,"y":16.31},{"p":"R","g":"DA","x":0.8188,"y":15.85},{"p":"R","g":"DA","x":0.8265,"y":15.31},{"p":"R","g":"DA","x":0.816,"y":14.72},{"p":"R","g":"DA","x":0.8158,"y":14.46},{"p":"R","g":"DA","x":0.8226,"y":14.39},{"p":"R","g":"DA","x":0.8254,"y":13.04}
]
},
"hconcat":[
{"width":458,"height":622,
"encoding":{"x":{"field":"x","type":"quantitative","scale":{"domain":[0.78779,0.84486],"nice":false},"axis":{"values":[0.8,0.82,0.84],"format":"~g","title":"PE","titleFontSize":44,"titlePadding":6,"labelPadding":36}},
"y":{"field":"y","type":"quantitative","scale":{"domain":[6.51,24.751],"nice":false},"axis":{"values":[10,15,20],"domain":false,"title":"SMI node degree","titleFontSize":44.5,"titlePadding":4,"labelPadding":28}}},
"layer":[
{"data":{"name":"spine"},"transform":[{"filter":"datum.p==='W'"}],"mark":{"type":"rule","color":"#333","strokeWidth":4},"encoding":{"y2":{"field":"top"}}},
{"data":{"name":"pts"},"transform":[{"filter":"datum.p==='W'"}],"mark":{"type":"point","filled":true,"opacity":1,"size":440,"stroke":"#111","strokeWidth":2.4},
"encoding":{"color":{"field":"g","type":"nominal","scale":{"domain":["SS","COTC","Audi","DMN","Visual","FPTC","Sal","Sub","VA","DA"],"range":["#0a0ae6","#b5988e","#e60fe6","#12a082","#ffee00","#00e000","#00e6f0","#f50000","#f57d1e","#7b3a96"]},"legend":{"title":null,"orient":"none","legendX":4,"legendY":4,"rowPadding":6.2,"labelOffset":38}},
"shape":{"field":"g","type":"nominal","scale":{"domain":["SS","COTC","Audi","DMN","Visual","FPTC","Sal","Sub","VA","DA"],"range":["M-0.9,0A0.9,0.9 0 1 1 0.9,0A0.9,0.9 0 1 1 -0.9,0Z","M0,-1.05L0.247,-0.34L1,-0.324L0.399,0.13L0.617,0.849L0,0.42L-0.617,0.849L-0.399,0.13L-1,-0.324L-0.247,-0.34Z","M0,-1L0.289,-0.5L0.866,-0.5L0.577,0L0.866,0.5L0.289,0.5L0,1L-0.289,0.5L-0.866,0.5L-0.577,0L-0.866,-0.5L-0.289,-0.5Z","M-0.62,-0.62H0.62V0.62H-0.62Z","M0,-1.15L0.85,0L0,1.15L-0.85,0Z","M-0.9,0L0.8,-1L0.8,1Z","M0.9,0L-0.8,-1L-0.8,1Z","M0,-0.95L1.05,0.8L-1.05,0.8Z","M0,0.95L1.05,-0.8L-1.05,-0.8Z","M-0.9,0A0.9,0.9 0 1 1 0.9,0A0.9,0.9 0 1 1 -0.9,0Z"]},"legend":{"title":null,"orient":"none","legendX":4,"legendY":4,"rowPadding":6.2,"labelOffset":38}}}},
{"data":{"name":"fit"},"transform":[{"filter":"datum.p==='W'"}],"mark":{"type":"line","color":"#e0102a","strokeWidth":1.8}},
{"data":{"name":"labels"},"transform":[{"filter":"datum.p==='W' && datum.s==='letter'"}],"mark":{"type":"text","fontSize":64,"fontWeight":"bold","font":"Liberation Serif","color":"#000","baseline":"alphabetic"},"encoding":{"text":{"field":"t"}}},
{"data":{"name":"labels"},"transform":[{"filter":"datum.p==='W' && datum.s==='head'"}],"mark":{"type":"text","fontSize":48,"fontWeight":"bold","font":"Liberation Serif","color":"#000","baseline":"alphabetic"},"encoding":{"text":{"field":"t"}}}
]},
{"width":456,"height":622,
"encoding":{"x":{"field":"x","type":"quantitative","scale":{"domain":[0.78773,0.84482],"nice":false},"axis":{"values":[0.8,0.82,0.84],"format":"~g","title":"PE","titleFontSize":44,"titlePadding":6,"labelPadding":36}},
"y":{"field":"y","type":"quantitative","scale":{"domain":[6.51,24.751],"nice":false},"axis":{"values":[10,15,20],"domain":false,"labels":false,"title":null}}},
"layer":[
{"data":{"name":"spine"},"transform":[{"filter":"datum.p==='L'"}],"mark":{"type":"rule","color":"#333","strokeWidth":4},"encoding":{"y2":{"field":"top"}}},
{"data":{"name":"pts"},"transform":[{"filter":"datum.p==='L'"}],"mark":{"type":"point","filled":true,"opacity":1,"size":440,"stroke":"#111","strokeWidth":2.4},
"encoding":{"color":{"field":"g","type":"nominal","scale":{"domain":["SS","COTC","Audi","DMN","Visual","FPTC","Sal","Sub","VA","DA"],"range":["#0a0ae6","#b5988e","#e60fe6","#12a082","#ffee00","#00e000","#00e6f0","#f50000","#f57d1e","#7b3a96"]},"legend":null},
"shape":{"field":"g","type":"nominal","scale":{"domain":["SS","COTC","Audi","DMN","Visual","FPTC","Sal","Sub","VA","DA"],"range":["M-0.9,0A0.9,0.9 0 1 1 0.9,0A0.9,0.9 0 1 1 -0.9,0Z","M0,-1.05L0.247,-0.34L1,-0.324L0.399,0.13L0.617,0.849L0,0.42L-0.617,0.849L-0.399,0.13L-1,-0.324L-0.247,-0.34Z","M0,-1L0.289,-0.5L0.866,-0.5L0.577,0L0.866,0.5L0.289,0.5L0,1L-0.289,0.5L-0.866,0.5L-0.577,0L-0.866,-0.5L-0.289,-0.5Z","M-0.62,-0.62H0.62V0.62H-0.62Z","M0,-1.15L0.85,0L0,1.15L-0.85,0Z","M-0.9,0L0.8,-1L0.8,1Z","M0.9,0L-0.8,-1L-0.8,1Z","M0,-0.95L1.05,0.8L-1.05,0.8Z","M0,0.95L1.05,-0.8L-1.05,-0.8Z","M-0.9,0A0.9,0.9 0 1 1 0.9,0A0.9,0.9 0 1 1 -0.9,0Z"]},"legend":null}}},
{"data":{"name":"fit"},"transform":[{"filter":"datum.p==='L'"}],"mark":{"type":"line","color":"#e0102a","strokeWidth":1.8}},
{"data":{"name":"labels"},"transform":[{"filter":"datum.p==='L'"}],"mark":{"type":"text","fontSize":48,"fontWeight":"bold","font":"Liberation Serif","color":"#000","baseline":"alphabetic"},"encoding":{"text":{"field":"t"}}}
]},
{"width":459,"height":622,
"encoding":{"x":{"field":"x","type":"quantitative","scale":{"domain":[0.78766,0.84486],"nice":false},"axis":{"values":[0.8,0.82,0.84],"format":"~g","title":"PE","titleFontSize":44,"titlePadding":6,"labelPadding":36}},
"y":{"field":"y","type":"quantitative","scale":{"domain":[6.51,24.751],"nice":false},"axis":{"values":[10,15,20],"domain":false,"labels":false,"title":null}}},
"layer":[
{"data":{"name":"spine"},"transform":[{"filter":"datum.p==='D'"}],"mark":{"type":"rule","color":"#333","strokeWidth":4},"encoding":{"y2":{"field":"top"}}},
{"data":{"name":"pts"},"transform":[{"filter":"datum.p==='D'"}],"mark":{"type":"point","filled":true,"opacity":1,"size":440,"stroke":"#111","strokeWidth":2.4},
"encoding":{"color":{"field":"g","type":"nominal","scale":{"domain":["SS","COTC","Audi","DMN","Visual","FPTC","Sal","Sub","VA","DA"],"range":["#0a0ae6","#b5988e","#e60fe6","#12a082","#ffee00","#00e000","#00e6f0","#f50000","#f57d1e","#7b3a96"]},"legend":null},
"shape":{"field":"g","type":"nominal","scale":{"domain":["SS","COTC","Audi","DMN","Visual","FPTC","Sal","Sub","VA","DA"],"range":["M-0.9,0A0.9,0.9 0 1 1 0.9,0A0.9,0.9 0 1 1 -0.9,0Z","M0,-1.05L0.247,-0.34L1,-0.324L0.399,0.13L0.617,0.849L0,0.42L-0.617,0.849L-0.399,0.13L-1,-0.324L-0.247,-0.34Z","M0,-1L0.289,-0.5L0.866,-0.5L0.577,0L0.866,0.5L0.289,0.5L0,1L-0.289,0.5L-0.866,0.5L-0.577,0L-0.866,-0.5L-0.289,-0.5Z","M-0.62,-0.62H0.62V0.62H-0.62Z","M0,-1.15L0.85,0L0,1.15L-0.85,0Z","M-0.9,0L0.8,-1L0.8,1Z","M0.9,0L-0.8,-1L-0.8,1Z","M0,-0.95L1.05,0.8L-1.05,0.8Z","M0,0.95L1.05,-0.8L-1.05,-0.8Z","M-0.9,0A0.9,0.9 0 1 1 0.9,0A0.9,0.9 0 1 1 -0.9,0Z"]},"legend":null}}},
{"data":{"name":"fit"},"transform":[{"filter":"datum.p==='D'"}],"mark":{"type":"line","color":"#e0102a","strokeWidth":1.8}},
{"data":{"name":"labels"},"transform":[{"filter":"datum.p==='D'"}],"mark":{"type":"text","fontSize":48,"fontWeight":"bold","font":"Liberation Serif","color":"#000","baseline":"alphabetic"},"encoding":{"text":{"field":"t"}}}
]},
{"width":456,"height":622,
"encoding":{"x":{"field":"x","type":"quantitative","scale":{"domain":[0.78788,0.84488],"nice":false},"axis":{"values":[0.8,0.82,0.84],"format":"~g","title":"PE","titleFontSize":44,"titlePadding":6,"labelPadding":36}},
"y":{"field":"y","type":"quantitative","scale":{"domain":[6.51,24.751],"nice":false},"axis":{"values":[10,15,20],"domain":false,"labels":false,"title":null}}},
"layer":[
{"data":{"name":"spine"},"transform":[{"filter":"datum.p==='R'"}],"mark":{"type":"rule","color":"#333","strokeWidth":4},"encoding":{"y2":{"field":"top"}}},
{"data":{"name":"pts"},"transform":[{"filter":"datum.p==='R'"}],"mark":{"type":"point","filled":true,"opacity":1,"size":440,"stroke":"#111","strokeWidth":2.4},
"encoding":{"color":{"field":"g","type":"nominal","scale":{"domain":["SS","COTC","Audi","DMN","Visual","FPTC","Sal","Sub","VA","DA"],"range":["#0a0ae6","#b5988e","#e60fe6","#12a082","#ffee00","#00e000","#00e6f0","#f50000","#f57d1e","#7b3a96"]},"legend":null},
"shape":{"field":"g","type":"nominal","scale":{"domain":["SS","COTC","Audi","DMN","Visual","FPTC","Sal","Sub","VA","DA"],"range":["M-0.9,0A0.9,0.9 0 1 1 0.9,0A0.9,0.9 0 1 1 -0.9,0Z","M0,-1.05L0.247,-0.34L1,-0.324L0.399,0.13L0.617,0.849L0,0.42L-0.617,0.849L-0.399,0.13L-1,-0.324L-0.247,-0.34Z","M0,-1L0.289,-0.5L0.866,-0.5L0.577,0L0.866,0.5L0.289,0.5L0,1L-0.289,0.5L-0.866,0.5L-0.577,0L-0.866,-0.5L-0.289,-0.5Z","M-0.62,-0.62H0.62V0.62H-0.62Z","M0,-1.15L0.85,0L0,1.15L-0.85,0Z","M-0.9,0L0.8,-1L0.8,1Z","M0.9,0L-0.8,-1L-0.8,1Z","M0,-0.95L1.05,0.8L-1.05,0.8Z","M0,0.95L1.05,-0.8L-1.05,-0.8Z","M-0.9,0A0.9,0.9 0 1 1 0.9,0A0.9,0.9 0 1 1 -0.9,0Z"]},"legend":null}}},
{"data":{"name":"fit"},"transform":[{"filter":"datum.p==='R'"}],"mark":{"type":"line","color":"#e0102a","strokeWidth":1.8}},
{"data":{"name":"labels"},"transform":[{"filter":"datum.p==='R'"}],"mark":{"type":"text","fontSize":48,"fontWeight":"bold","font":"Liberation Serif","color":"#000","baseline":"alphabetic"},"encoding":{"text":{"field":"t"}}}
]},
{"width":532,"height":654,
"encoding":{"x":{"type":"quantitative","scale":{"domain":[-0.136,4.514],"nice":false},"axis":{"values":[1,2,3,4],"labelExpr":"['','W','L','D','R'][datum.value]","domain":false,"title":null,"labelPadding":28}},
"y":{"type":"quantitative","scale":{"domain":[-0.1,0.6645],"nice":false},"axis":{"values":[-0.1,0,0.1,0.2,0.3,0.4,0.5,0.6],"labelExpr":"'' + datum.value","domain":false,"title":null,"offset":-75,"labelPadding":26}}},
"layer":[
{"data":{"name":"frame"},"mark":{"type":"rule","color":"#333","strokeWidth":4},"encoding":{"x":{"datum":0.519},"y":{"datum":-0.1},"y2":{"datum":0.6645}}},
{"data":{"name":"frame"},"mark":{"type":"rule","color":"#333","strokeWidth":4},"encoding":{"x":{"datum":0.519},"x2":{"datum":4.514},"y":{"datum":-0.1}}},
{"data":{"name":"frame"},"mark":{"type":"rule","color":"#888","strokeWidth":1.5},"encoding":{"x":{"datum":0.519},"x2":{"datum":4.49},"y":{"datum":0}}},
{"data":{"name":"bars"},"mark":{"type":"rule","color":"#222","strokeWidth":2},"encoding":{"x":{"field":"c"},"y":{"field":"lo"},"y2":{"field":"hi"}}},
{"data":{"name":"caps"},"mark":{"type":"tick","orient":"horizontal","size":18,"thickness":2,"color":"#222"},"encoding":{"x":{"field":"c"},"y":{"field":"y"}}},
{"data":{"name":"bars"},"mark":{"type":"bar","orient":"vertical","size":91,"color":"#ffff00","stroke":"#222","strokeWidth":1.5},"encoding":{"x":{"field":"c"},"y":{"field":"v","stack":null},"y2":{"datum":0}}},
{"data":{"name":"brackets"},"mark":{"type":"rule","color":"#222","strokeWidth":1.5},"encoding":{"x":{"field":"a"},"x2":{"field":"b"},"y":{"field":"y"}}},
{"data":{"name":"notes"},"transform":[{"filter":"datum.s==='hash'"}],"mark":{"type":"text","fontSize":46,"font":"Liberation Serif","color":"#000","baseline":"alphabetic"},"encoding":{"x":{"field":"x"},"y":{"field":"y"},"text":{"field":"t"}}},
{"data":{"name":"notes"},"transform":[{"filter":"datum.s==='star'"}],"mark":{"type":"text","fontSize":34,"fontWeight":"bold","font":"Liberation Serif","color":"#000","baseline":"alphabetic"},"encoding":{"x":{"field":"x"},"y":{"field":"y"},"text":{"field":"t"}}},
{"data":{"name":"notes"},"transform":[{"filter":"datum.s==='letter'"}],"mark":{"type":"text","fontSize":64,"fontWeight":"bold","font":"Liberation Serif","color":"#000","baseline":"alphabetic"},"encoding":{"x":{"field":"x"},"y":{"field":"y"},"text":{"field":"t"}}},
{"data":{"name":"notes"},"transform":[{"filter":"datum.s==='head'"}],"mark":{"type":"text","fontSize":48,"fontWeight":"bold","font":"Liberation Serif","color":"#000","baseline":"alphabetic"},"encoding":{"x":{"field":"x"},"y":{"field":"y"},"text":{"field":"t"}}}
]}
]
}
